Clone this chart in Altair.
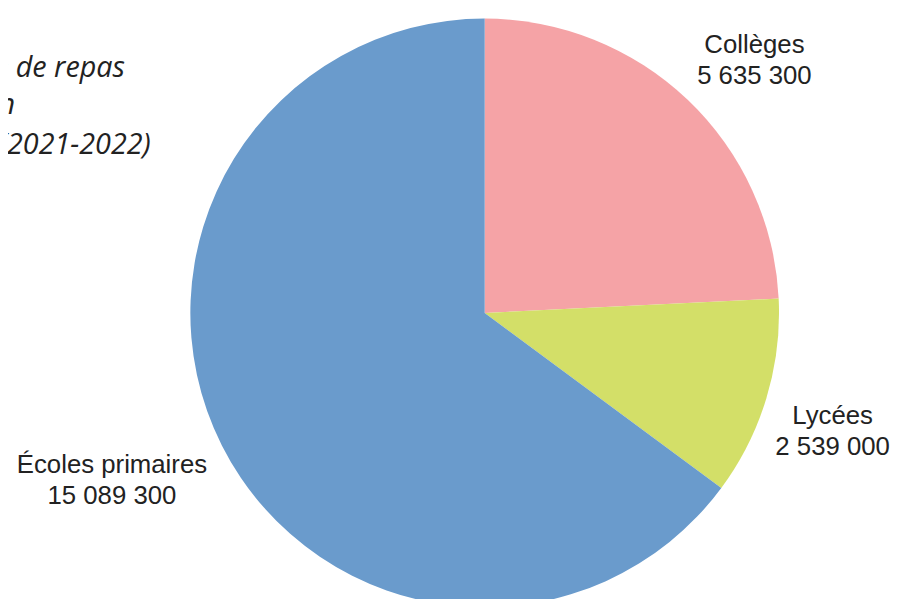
import altair as alt
import pandas as pd

categories = ["Collèges", "Lycées", "Écoles primaires"]
values = [5635300, 2539000, 15089300]
colors = ["#F5A3A6", "#D3DF68", "#6A9BCC"]
title_lines = ["Nombre de repas", "servis en restauration", "scolaire (2021-2022)"]

df = pd.DataFrame({
    "cat": categories,
    "val": values,
    "ord": list(range(len(categories))),
})
df["label"] = df["cat"] + "\n" + df["val"].map(lambda v: f"{v:,}".replace(",", " "))

CX, CY = 481, 305

base = alt.Chart(df).encode(
    theta=alt.Theta("val:Q", stack=True),
    order=alt.Order("ord:Q"),
    x=alt.value(CX),
    y=alt.value(CY),
)

pie = base.mark_arc(stroke=None).encode(
    color=alt.Color("cat:N", scale=alt.Scale(domain=categories, range=colors), legend=None),
    radius=alt.value(297),
)

text_style = dict(
    font="Liberation Sans", fontSize=26, color="#222222",
    lineBreak="\n", lineHeight=31, align="center", baseline="middle",
)

label_offsets = {"Collèges": (17, -2, 370), "Lycées": (-3, -3, 370), "Écoles primaires": (-10, -31, 410)}
label_layers = []
for cat, (ddx, ddy, rr) in label_offsets.items():
    label_layers.append(
        base.mark_text(dx=ddx, dy=ddy, **text_style).encode(
            text=alt.Text("label:N"),
            opacity=alt.condition(alt.datum.cat == cat, alt.value(1), alt.value(0)),
            radius=alt.value(rr),
        )
    )

tdf = pd.DataFrame({"t": title_lines, "i": [0, 1, 2]})
title_layers = []
rights = [118, 7, 144]
bases = [67, 104, 145]
for i, t in enumerate(title_lines):
    title_layers.append(
        alt.Chart(tdf).transform_filter(alt.datum.i == i).mark_text(
            font="Open Sans", fontStyle="italic", fontSize=29, color="#222222",
            align="right", baseline="alphabetic",
        ).encode(text="t:N", x=alt.value(rights[i]), y=alt.value(bases[i]))
    )

chart = alt.layer(pie, *label_layers, *title_layers).properties(
    width=891, height=591,
    autosize=alt.AutoSizeParams(type="none"),
    padding=0,
).configure_view(stroke=None)

chart.save("out.html", embed_options={"renderer": "svg", "actions": False})
